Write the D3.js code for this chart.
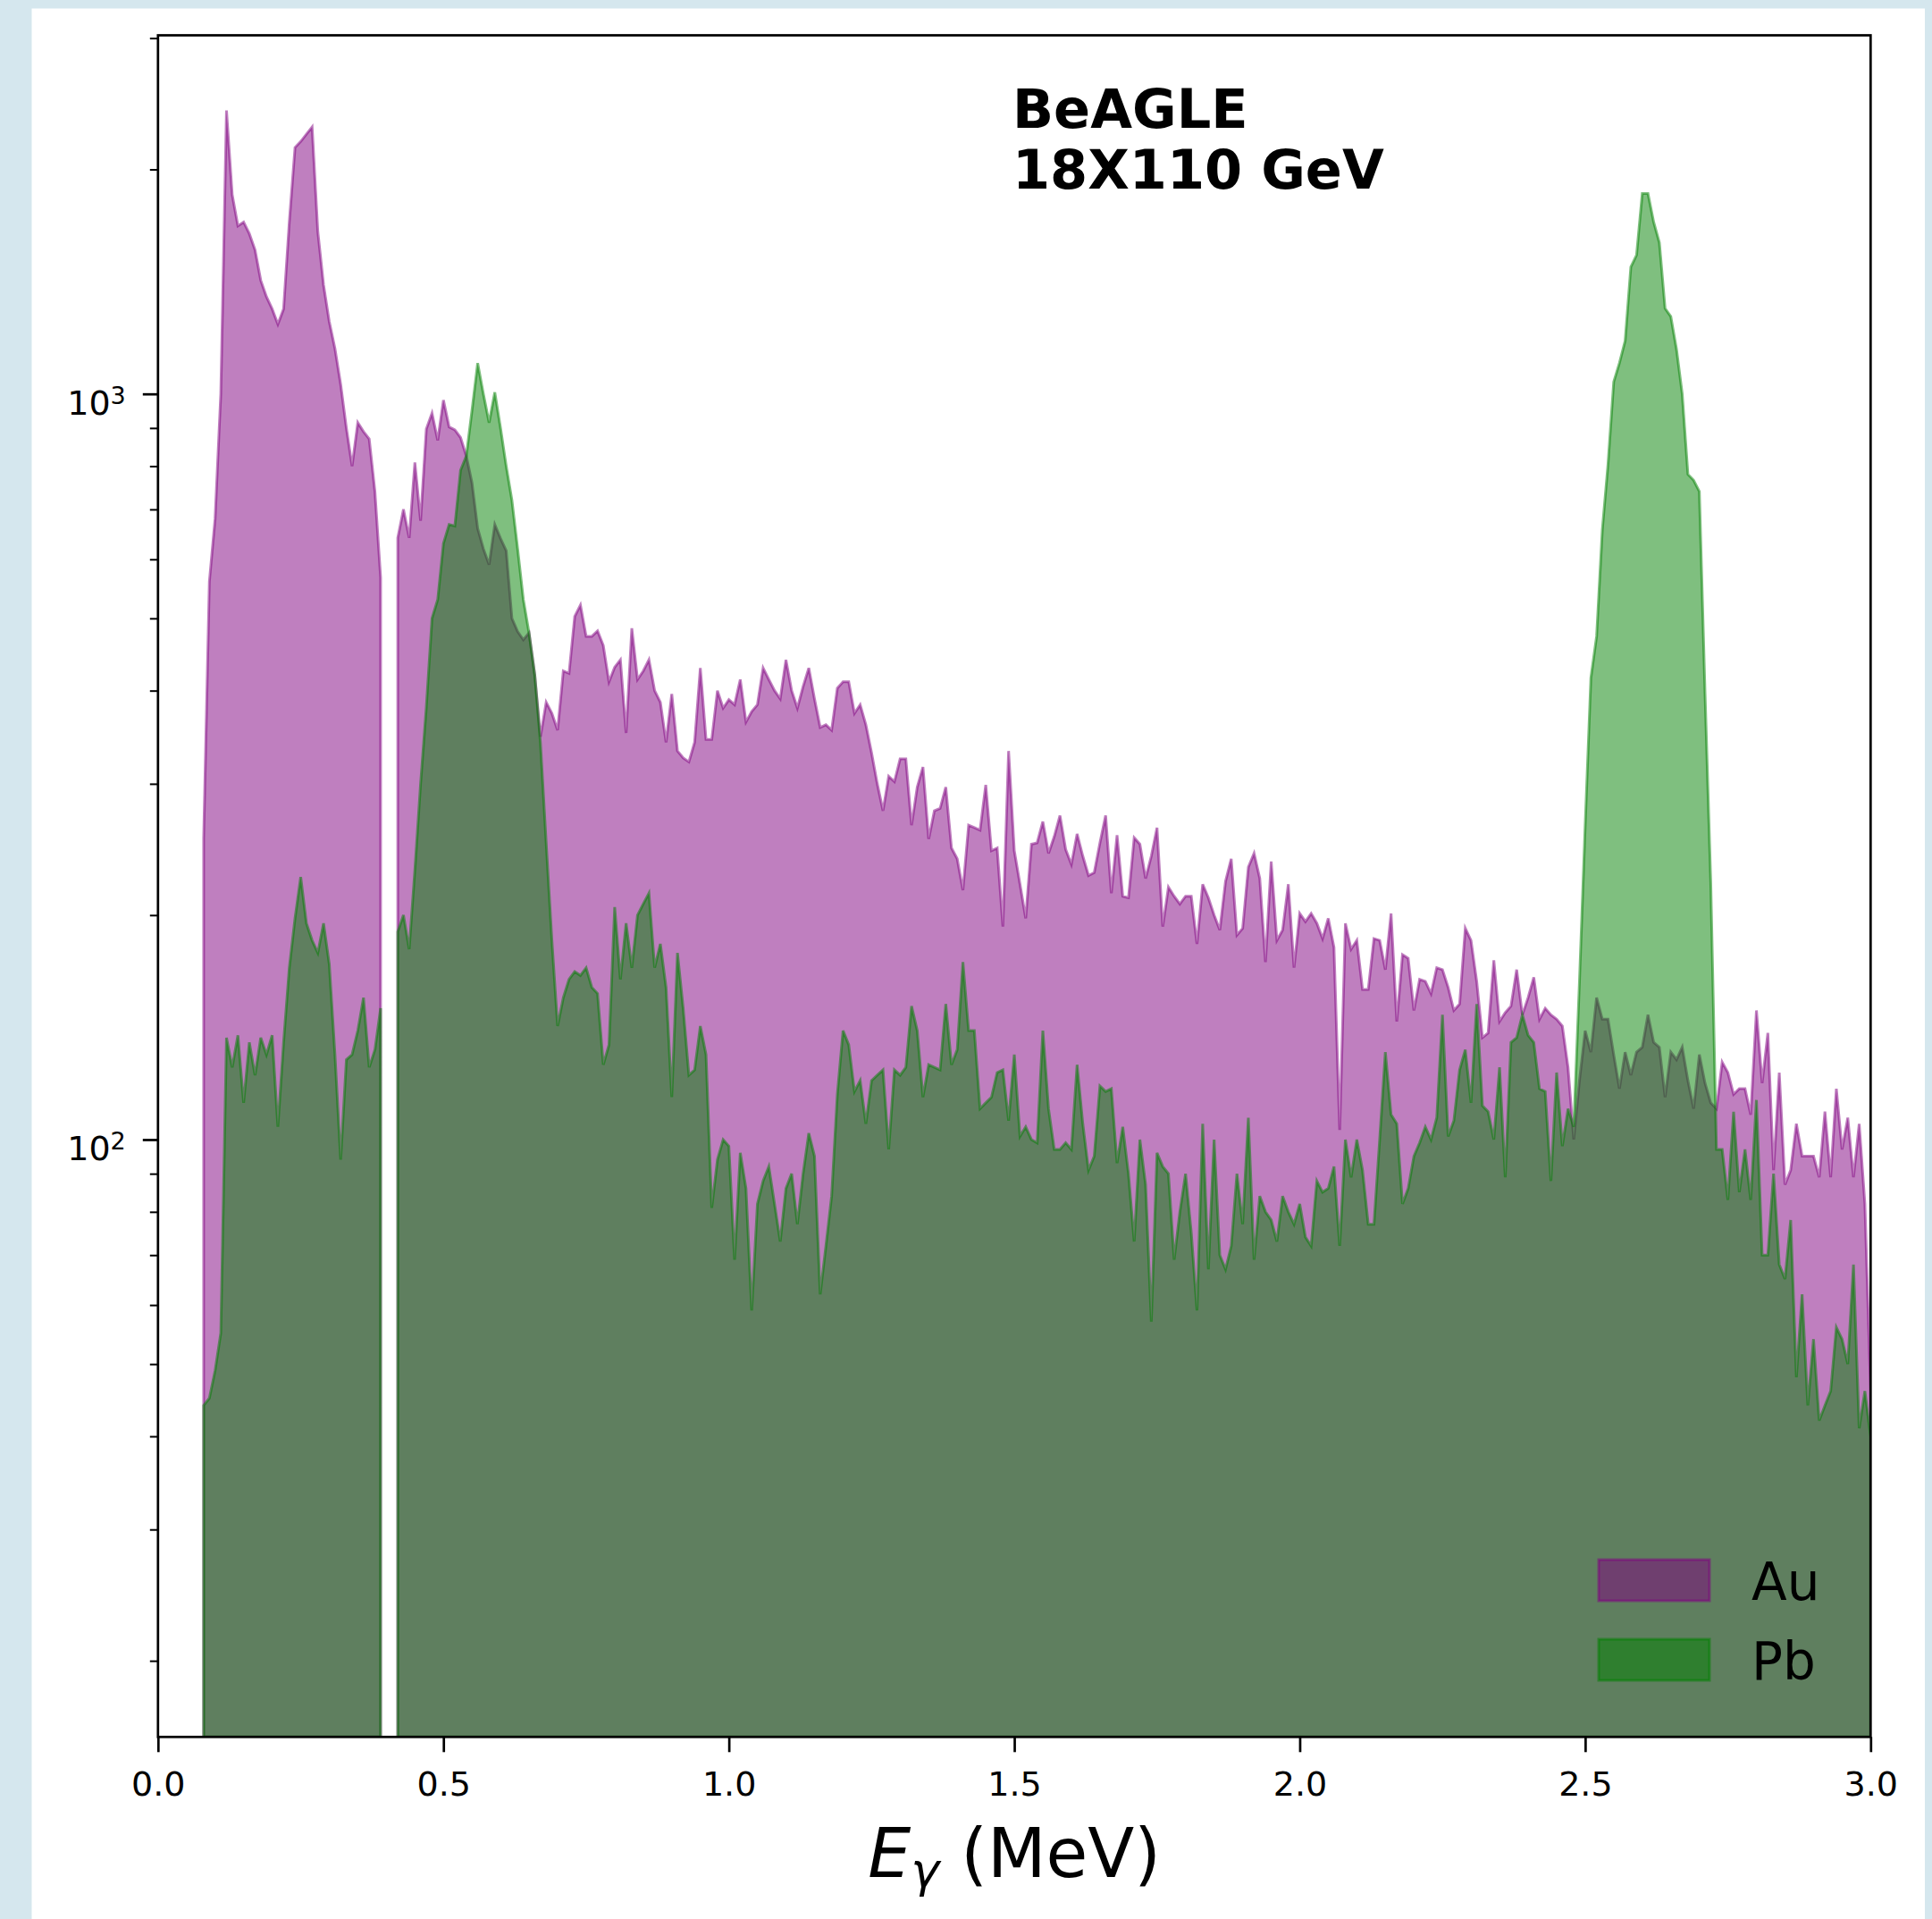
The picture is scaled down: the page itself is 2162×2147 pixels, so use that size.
<!DOCTYPE html>
<html><head><meta charset="utf-8">
<script src="https://cdn.jsdelivr.net/npm/d3@7"></script>
<style>body{margin:0;background:#d5e7ee;}svg{display:block}</style>
</head><body><svg id="c" width="2162" height="2147"></svg>
<script>
// Photon energy bins (MeV)
const energy = [
0.08,0.09,
0.10,0.11,0.12,0.13,0.14,0.15,0.16,0.17,0.18,0.19,
0.20,0.21,0.22,0.23,0.24,0.25,0.26,0.27,0.28,0.29,
0.30,0.31,0.32,0.33,0.34,0.35,0.36,0.37,0.38,0.39,
0.40,0.41,0.42,0.43,0.44,0.45,0.46,0.47,0.48,0.49,
0.50,0.51,0.52,0.53,0.54,0.55,0.56,0.57,0.58,0.59,
0.60,0.61,0.62,0.63,0.64,0.65,0.66,0.67,0.68,0.69,
0.70,0.71,0.72,0.73,0.74,0.75,0.76,0.77,0.78,0.79,
0.80,0.81,0.82,0.83,0.84,0.85,0.86,0.87,0.88,0.89,
0.90,0.91,0.92,0.93,0.94,0.95,0.96,0.97,0.98,0.99,
1.00,1.01,1.02,1.03,1.04,1.05,1.06,1.07,1.08,1.09,
1.10,1.11,1.12,1.13,1.14,1.15,1.16,1.17,1.18,1.19,
1.20,1.21,1.22,1.23,1.24,1.25,1.26,1.27,1.28,1.29,
1.30,1.31,1.32,1.33,1.34,1.35,1.36,1.37,1.38,1.39,
1.40,1.41,1.42,1.43,1.44,1.45,1.46,1.47,1.48,1.49,
1.50,1.51,1.52,1.53,1.54,1.55,1.56,1.57,1.58,1.59,
1.60,1.61,1.62,1.63,1.64,1.65,1.66,1.67,1.68,1.69,
1.70,1.71,1.72,1.73,1.74,1.75,1.76,1.77,1.78,1.79,
1.80,1.81,1.82,1.83,1.84,1.85,1.86,1.87,1.88,1.89,
1.90,1.91,1.92,1.93,1.94,1.95,1.96,1.97,1.98,1.99,
2.00,2.01,2.02,2.03,2.04,2.05,2.06,2.07,2.08,2.09,
2.10,2.11,2.12,2.13,2.14,2.15,2.16,2.17,2.18,2.19,
2.20,2.21,2.22,2.23,2.24,2.25,2.26,2.27,2.28,2.29,
2.30,2.31,2.32,2.33,2.34,2.35,2.36,2.37,2.38,2.39,
2.40,2.41,2.42,2.43,2.44,2.45,2.46,2.47,2.48,2.49,
2.50,2.51,2.52,2.53,2.54,2.55,2.56,2.57,2.58,2.59,
2.60,2.61,2.62,2.63,2.64,2.65,2.66,2.67,2.68,2.69,
2.70,2.71,2.72,2.73,2.74,2.75,2.76,2.77,2.78,2.79,
2.80,2.81,2.82,2.83,2.84,2.85,2.86,2.87,2.88,2.89,
2.90,2.91,2.92,2.93,2.94,2.95,2.96,2.97,2.98,2.99,
3.00];

// Au counts
const au = [
254,560,
680,1000,2400,1850,1680,1700,1640,1560,1420,1350,
1300,1240,1300,1700,2140,2180,2230,2280,1650,1400,
1250,1150,1030,900,800,915,890,870,740,567,
null,null,641,700,641,809,676,897,942,866,
981,903,895,874,826,760,660,620,590,668,
640,616,500,480,468,478,420,347,386,373,
354,425,422,503,521,473,473,481,460,411,
430,440,351,485,414,425,440,400,386,341,
396,332,325,321,341,429,344,344,400,379,
389,383,414,363,375,383,429,414,400,390,
440,400,379,405,429,390,357,360,354,403,
411,411,373,383,360,330,300,276,307,302,
324,324,264,297,316,253,276,278,297,246,
238,216,264,262,260,299,244,246,193,332,
244,220,198,249,250,267,242,255,272,245,
234,257,240,226,228,250,272,214,256,212,
211,254,249,224,240,262,193,218,212,207,
212,212,183,220,211,200,191,222,238,188,
192,232,242,224,173,236,185,191,220,170,
201,196,201,195,186,198,181,103,195,180,
185,159,159,186,185,169,201,144,177,175,
149,164,163,157,170,169,160,149,152,192,
185,163,137,139,174,144,148,151,169,147,
155,165,145,150,147,145,142,125,100,120,
140,131,155,145,145,130,117,131,122,131,
133,147,135,133,114,131,128,133,120,110,
130,119,112,110,127,123,115,117,117,108,
149,119,139,91,123,87,91,105,95,95,
95,89,109,89,117,97,107,89,105,82,
46];

// Pb counts
const pb = [
44,45,
49,55,137,125,138,112,135,122,137,130,
138,104,135,170,198,225,195,185,178,195,
172,130,94,128,130,140,155,125,132,150,
null,null,190,200,180,230,300,380,500,530,
630,668,665,790,825,950,1100,1000,915,1005,
900,800,720,620,530,478,420,340,250,185,
142,155,164,168,166,170,160,157,126,134,
205,164,195,170,200,207,214,170,183,160,
114,178,150,122,124,142,130,81,94,100,
98,69,96,86,59,82,88,92,82,73,
86,90,77,90,102,95,62,72,84,115,
140,134,116,120,105,120,122,124,97,124,
122,125,151,140,114,126,125,124,152,126,
132,173,140,140,110,112,114,123,124,106,
130,101,104,100,99,140,110,97,97,99,
97,126,105,91,95,118,116,117,93,104,
90,73,100,87,57,96,92,90,69,80,
90,75,59,105,67,100,70,67,72,90,
77,107,69,84,80,78,73,84,80,77,
82,74,72,88,85,86,92,72,100,89,
100,91,77,77,100,131,108,105,82,86,
95,99,104,100,107,147,101,106,124,132,
112,152,111,109,100,125,89,135,137,147,
138,135,117,116,88,123,98,110,104,163,
264,416,473,657,805,1038,1100,1178,1480,1535,
1857,1857,1700,1595,1302,1270,1148,1000,780,766,
740,396,221,97,97,83,109,85,97,83,
113,70,70,90,68,65,78,48,62,44,
54,42,44,46,56,54,50,68,41,46,
40];

const seriesNames = ["Au", "Pb"];
const seriesColors = ["#800080", "#008000"];
const xTickValues = [0, 0.5, 1.0, 1.5, 2.0, 2.5, 3.0];
const xTickLabels = ["0.0", "0.5", "1.0", "1.5", "2.0", "2.5", "3.0"];
const yMajorValues = [100, 1000];
const yMajorExponents = ["2", "3"];
const yMinorValues = [20,30,40,50,60,70,80,90,200,300,400,500,600,700,800,900,2000,3000];
const annotationLines = ["BeAGLE", "18X110 GeV"];

const svg = d3.select("#c");
const FONT = "'DejaVu Sans', 'Liberation Sans', sans-serif";

// figure background (white panel)
svg.append("rect").attr("x", 35.5).attr("y", 9.5)
  .attr("width", 2154 - 35.5).attr("height", 2147 - 9.5).attr("fill", "#ffffff");

const L = 176.8, R = 2093.3, T = 39.5, B = 1943.3;
const x = d3.scaleLinear().domain([0, 3]).range([L, R]);
const y = d3.scaleLog().domain([15.81, 3026]).range([B, T]);

svg.append("clipPath").attr("id", "plotclip")
  .append("rect").attr("x", L).attr("y", T).attr("width", R - L).attr("height", B - T);

const gPlot = svg.append("g").attr("clip-path", "url(#plotclip)");

const area = d3.area()
  .defined(d => d.v != null)
  .x(d => x(d.e))
  .y0(B)
  .y1(d => y(d.v));

[au, pb].forEach((vals, si) => {
  const data = energy.map((e, i) => ({e: e, v: vals[i]}));
  gPlot.append("path")
    .datum(data)
    .attr("d", area)
    .attr("fill", seriesColors[si])
    .attr("fill-opacity", 0.5)
    .attr("stroke", seriesColors[si])
    .attr("stroke-opacity", 0.5)
    .attr("stroke-width", 3)
    .attr("stroke-linejoin", "miter");
});

// annotation
const ann = svg.append("text")
  .attr("font-family", FONT).attr("font-weight", "bold").attr("font-size", 60.5)
  .attr("fill", "#000");
annotationLines.forEach((t, i) => {
  ann.append("tspan").attr("x", 1133).attr("y", 143 + i * 68).text(t);
});

// legend
const legY = [1745, 1834];
seriesNames.forEach((name, i) => {
  svg.append("rect").attr("x", 1789).attr("y", legY[i]).attr("width", 124).attr("height", 46)
    .attr("fill", seriesColors[i]).attr("fill-opacity", 0.5)
    .attr("stroke", seriesColors[i]).attr("stroke-opacity", 0.5).attr("stroke-width", 3);
  svg.append("text").attr("x", 1960).attr("y", legY[i] + 45)
    .attr("font-family", FONT).attr("font-size", 58).attr("fill", "#000").text(name);
});

// x axis
const xAxis = d3.axisBottom(x).tickValues(xTickValues)
  .tickFormat((d, i) => xTickLabels[i]).tickSize(17).tickPadding(22);
const gx = svg.append("g").attr("transform", `translate(0,${B})`).call(xAxis);
gx.select(".domain").remove();
gx.selectAll(".tick line").attr("stroke", "#000").attr("stroke-width", 2.7);
gx.selectAll(".tick text").attr("font-family", FONT).attr("font-size", 38).attr("fill", "#000");

// y axis minor
const yMinorAxis = d3.axisLeft(y).tickValues(yMinorValues).tickFormat(() => "").tickSize(9);
const gym = svg.append("g").attr("transform", `translate(${L},0)`).call(yMinorAxis);
gym.select(".domain").remove();
gym.selectAll(".tick line").attr("stroke", "#000").attr("stroke-width", 2);

// y axis major
const yAxis = d3.axisLeft(y).tickValues(yMajorValues).tickFormat(() => "").tickSize(17);
const gy = svg.append("g").attr("transform", `translate(${L},0)`).call(yAxis);
gy.select(".domain").remove();
gy.selectAll(".tick line").attr("stroke", "#000").attr("stroke-width", 2.7);
gy.selectAll(".tick text").remove();
gy.selectAll(".tick").each(function(d, i) {
  const t = d3.select(this).append("text")
    .attr("x", -36).attr("y", 23).attr("text-anchor", "end")
    .attr("font-family", FONT).attr("fill", "#000");
  t.append("tspan").attr("font-size", 38).text("10");
  t.append("tspan").attr("font-size", 27).attr("dy", -12).text(yMajorExponents[i]);
});

// frame
svg.append("rect").attr("x", L).attr("y", T).attr("width", R - L).attr("height", B - T)
  .attr("fill", "none").attr("stroke", "#000").attr("stroke-width", 2.7);

// x label: E_gamma (MeV)
const xl = svg.append("text").attr("x", (L + R) / 2).attr("y", 2100)
  .attr("text-anchor", "middle").attr("font-family", FONT).attr("font-size", 76).attr("fill", "#000");
xl.append("tspan").attr("font-style", "italic").text("E");
xl.append("tspan").attr("font-style", "italic").attr("font-size", 54).attr("dy", 11).text("γ");
xl.append("tspan").attr("dy", -11).text(" (MeV)");
</script>
</body></html>
